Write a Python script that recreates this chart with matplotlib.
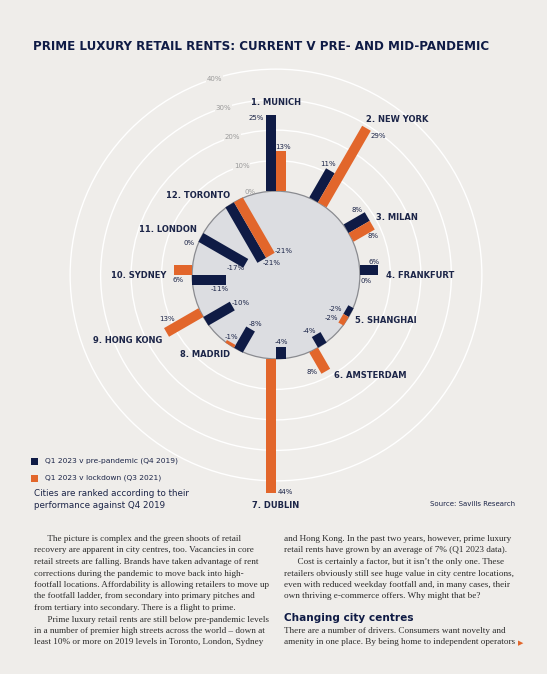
import numpy as np
import matplotlib
matplotlib.use("Agg")
import matplotlib.pyplot as plt
from matplotlib.patches import Circle, Polygon

# ---------------------------------------------------------------------------
# data (Savills: prime luxury retail rents, % change to Q1 2023)
# ---------------------------------------------------------------------------
cities = ["MUNICH", "NEW YORK", "MILAN", "FRANKFURT", "SHANGHAI", "AMSTERDAM",
          "DUBLIN", "MADRID", "HONG KONG", "SYDNEY", "LONDON", "TORONTO"]
vs_pre = [25, 11, 8, 6, -2, -4, -4, -8, -10, -11, -17, -21]
vs_lockdown = [13, 29, 8, 0, -2, 8, 44, -1, 13, 6, 0, -21]
ring_ticks = [0, 10, 20, 30, 40]
series_names = ["Q1 2023 v pre-pandemic (Q4 2019)", "Q1 2023 v lockdown (Q3 2021)"]

# ---------------------------------------------------------------------------
# style
# ---------------------------------------------------------------------------
W, H = 547, 674
BG = "#efedea"
NAVY = "#0f1b45"
ORANGE = "#e2662b"
DISC = "#dcdde1"
TXT = "#1c2548"
SANS = ["DejaVu Sans"]
SERIF = ["Liberation Serif", "DejaVu Serif"]

CX, CY, SCALE = 276, 275, 3.05   # centre of the wheel in px, px per %
HOLE = 27.5                      # 0% ring radius in % units
BAR_W = 3.28

# label nudges in pixels (navy, orange) per city
nudge_pre = [(-14.5, -3), (-2, 7), (-10, 7), (-4.5, 8), (-10, 1), (-7, 3.6),
             (0, 5), (4.5, 4.7), (8.7, 3.3), (-6, -9.3), (-10, -5), (10, -2.4)]
nudge_lock = [(2, 4.5), (12, -7.7), (1, -11), (6, -1), (-9, 0.5), (-14, -1),
              (14.3, 1.3), (0, 5), (1, 13), (4.5, -10), (-16.4, -14.6), (13.5, 4.3)]

fig = plt.figure(figsize=(W / 100, H / 100), dpi=100, facecolor=BG)
ax = fig.add_axes([0, 0, 1, 1])
ax.set_facecolor(BG)
ax.set_xlim(-CX / SCALE, (W - CX) / SCALE)
ax.set_ylim(-(H - CY) / SCALE, CY / SCALE)
ax.axis("off")


def fx(x):
    return x / W


def fy(y):
    return 1 - y / H


# rings
for t in ring_ticks[1:]:
    ax.add_patch(Circle((0, 0), HOLE + t, fill=False, ec="white", lw=1.0, zorder=1))
ax.add_patch(Circle((0, 0), HOLE, fc=DISC, ec="#8a8b90", lw=0.9, zorder=2))

lab_ang = np.deg2rad(107.5)
for t in ring_ticks:
    r = HOLE + t + (1.2 if t == 0 else 0)
    ax.text(r * np.cos(lab_ang), r * np.sin(lab_ang), f"{t}%", fontsize=5,
            color="#9a9a9a", ha="center", va="center", family=SANS, zorder=3,
            bbox=dict(fc=BG, ec="none", pad=0.6) if t > 0 else None)

angles = np.deg2rad(90 - 30 * np.arange(len(cities)))


def bar(theta, v, side, color):
    d = np.array([np.cos(theta), np.sin(theta)])
    p = np.array([-np.sin(theta), np.cos(theta)]) * side * BAR_W
    r1 = HOLE + v
    pts = [HOLE * d, r1 * d, r1 * d + p, HOLE * d + p]
    if v != 0:
        ax.add_patch(Polygon(pts, closed=True, fc=color, ec="none", zorder=4))
    tip = r1 * d + p / 2
    return tip


for i, name in enumerate(cities):
    th = angles[i]
    for v, side, col, nd in ((vs_pre[i], 1, NAVY, nudge_pre[i]),
                             (vs_lockdown[i], -1, ORANGE, nudge_lock[i])):
        tip = bar(th, v, side, col)
        ax.annotate(f"{v}%", xy=tip, xytext=nd, textcoords="offset pixels",
                    fontsize=5, color=TXT, ha="center", va="center",
                    family=SANS, zorder=5)
    # city label
    r = HOLE + max(0, vs_pre[i], vs_lockdown[i]) + 2.5
    c, s = np.cos(th), np.sin(th)
    ha = "left" if c > 0.3 else ("right" if c < -0.3 else "center")
    va = "bottom" if s > 0.9 else ("top" if s < -0.9 else "center")
    ax.text(r * c, r * s, f"{i + 1}. {name}", fontsize=6, fontweight="bold",
            color=TXT, ha=ha, va=va, family=SANS, zorder=5)

# title
fig.text(fx(33), fy(47), "PRIME LUXURY RETAIL RENTS: CURRENT V PRE- AND MID-PANDEMIC",
         fontsize=8.55, fontweight="heavy", color=NAVY, ha="left", va="center",
         family=SANS)

# legend
for k, (name, col) in enumerate(zip(series_names, [NAVY, ORANGE])):
    y = 461 + 17 * k
    fig.patches.append(plt.Rectangle((fx(31), fy(y + 3.5)), 7 / W, 7 / H,
                                     transform=fig.transFigure, fc=col, ec="none"))
    fig.text(fx(45), fy(y), name, fontsize=5.4, color=TXT, ha="left",
             va="center", family=SANS)
fig.text(fx(34), fy(494), "Cities are ranked according to their", fontsize=6.3,
         color=TXT, ha="left", va="center", family=SANS)
fig.text(fx(34), fy(505), "performance against Q4 2019", fontsize=6.3,
         color=TXT, ha="left", va="center", family=SANS)
fig.text(fx(515), fy(504), "Source: Savills Research", fontsize=5, color=TXT,
         ha="right", va="center", family=SANS)

# body text
left_col = [
    "      The picture is complex and the green shoots of retail",
    "recovery are apparent in city centres, too. Vacancies in core",
    "retail streets are falling. Brands have taken advantage of rent",
    "corrections during the pandemic to move back into high-",
    "footfall locations. Affordability is allowing retailers to move up",
    "the footfall ladder, from secondary into primary pitches and",
    "from tertiary into secondary. There is a flight to prime.",
    "      Prime luxury retail rents are still below pre-pandemic levels",
    "in a number of premier high streets across the world – down at",
    "least 10% or more on 2019 levels in Toronto, London, Sydney",
]
right_col = [
    "and Hong Kong. In the past two years, however, prime luxury",
    "retail rents have grown by an average of 7% (Q1 2023 data).",
    "      Cost is certainly a factor, but it isn’t the only one. These",
    "retailers obviously still see huge value in city centre locations,",
    "even with reduced weekday footfall and, in many cases, their",
    "own thriving e-commerce offers. Why might that be?",
]
right_tail = [
    "There are a number of drivers. Consumers want novelty and",
    "amenity in one place. By being home to independent operators",
]
line_h = 11.5
for j, line in enumerate(left_col):
    fig.text(fx(34), fy(539 + j * line_h), line, fontsize=6.6, color="#2a2a2a",
             ha="left", va="center", family=SERIF)
for j, line in enumerate(right_col):
    fig.text(fx(284), fy(539 + j * line_h), line, fontsize=6.6, color="#2a2a2a",
             ha="left", va="center", family=SERIF)
fig.text(fx(284), fy(618), "Changing city centres", fontsize=7.6,
         fontweight="bold", color=NAVY, ha="left", va="center", family=SANS)
for j, line in enumerate(right_tail):
    fig.text(fx(284), fy(631 + j * line_h), line, fontsize=6.6, color="#2a2a2a",
             ha="left", va="center", family=SERIF)
fig.text(fx(518), fy(643), "▶", fontsize=5, color=ORANGE, ha="left",
         va="center", family=SANS)

fig.savefig("out.png", dpi=100, facecolor=BG)
